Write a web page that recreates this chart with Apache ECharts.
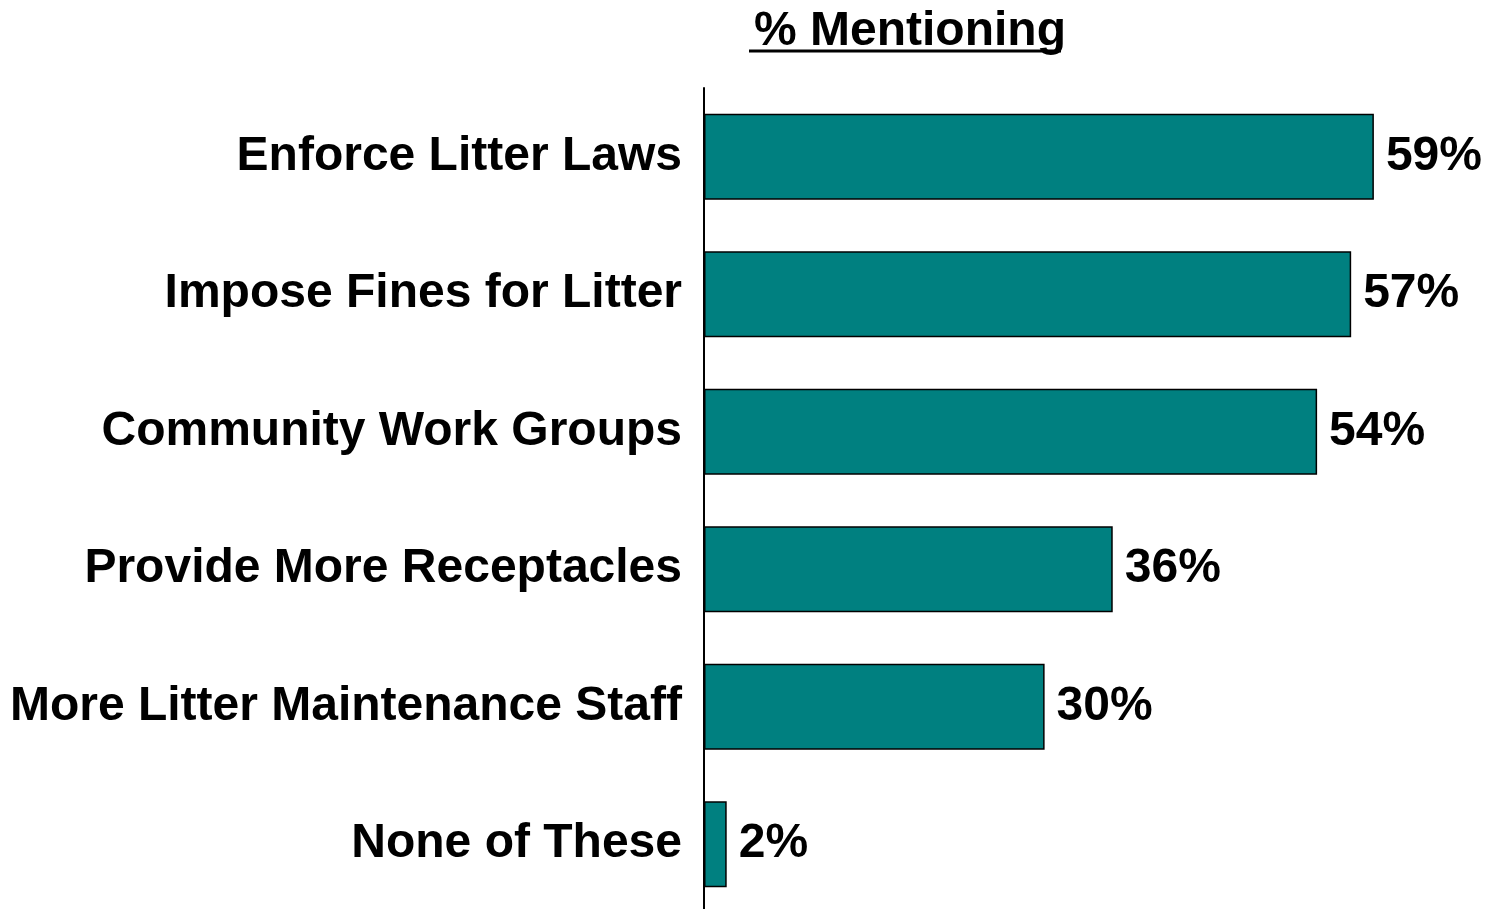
<!DOCTYPE html>
<html>
<head>
<meta charset="utf-8">
<script src="https://cdn.jsdelivr.net/npm/echarts@6/dist/echarts.min.js"></script>
<style>
html,body{margin:0;padding:0;background:#fff;overflow:hidden;}
#chart{width:1487px;height:913px;}
</style>
</head>
<body>
<div id="chart"></div>
<script>
const categories = [
  'Enforce Litter Laws',
  'Impose Fines for Litter',
  'Community Work Groups',
  'Provide More Receptacles',
  'More Litter Maintenance Staff',
  'None of These'
];
const values = [59, 57, 54, 36, 30, 2];
const titleText = '% Mentioning';

const FONT = '"Liberation Sans", Arial, sans-serif';
const chart = echarts.init(document.getElementById('chart'), null, {renderer: 'canvas'});
chart.setOption({
  backgroundColor: '#ffffff',
  animation: false,
  title: {
    text: titleText,
    left: 905,
    top: 3,
    textAlign: 'center',
    textStyle: {fontFamily: FONT, fontWeight: 'bold', fontSize: 48, color: '#000'}
  },
  graphic: [{
    type: 'line',
    shape: {x1: 749, y1: 51, x2: 1061, y2: 51},
    style: {stroke: '#000', lineWidth: 3}
  }],
  grid: {left: 704, width: 738, top: 88, bottom: 0, containLabel: false},
  xAxis: {
    type: 'value', min: 0, max: 65, show: false
  },
  yAxis: {
    type: 'category',
    data: categories,
    inverse: true,
    axisLine: {show: true, lineStyle: {color: '#000', width: 2}},
    axisTick: {show: false},
    axisLabel: {
      margin: 22,
      fontFamily: FONT, fontWeight: 'bold', fontSize: 48, color: '#000'
    }
  },
  series: [{
    type: 'bar',
    data: values,
    barWidth: 86,
    itemStyle: {color: '#008080', borderColor: '#000', borderWidth: 1.5},
    label: {
      show: true, position: 'right', distance: 12,
      formatter: '{c}%',
      fontFamily: FONT, fontWeight: 'bold', fontSize: 48, color: '#000'
    }
  }]
});
</script>
</body>
</html>
